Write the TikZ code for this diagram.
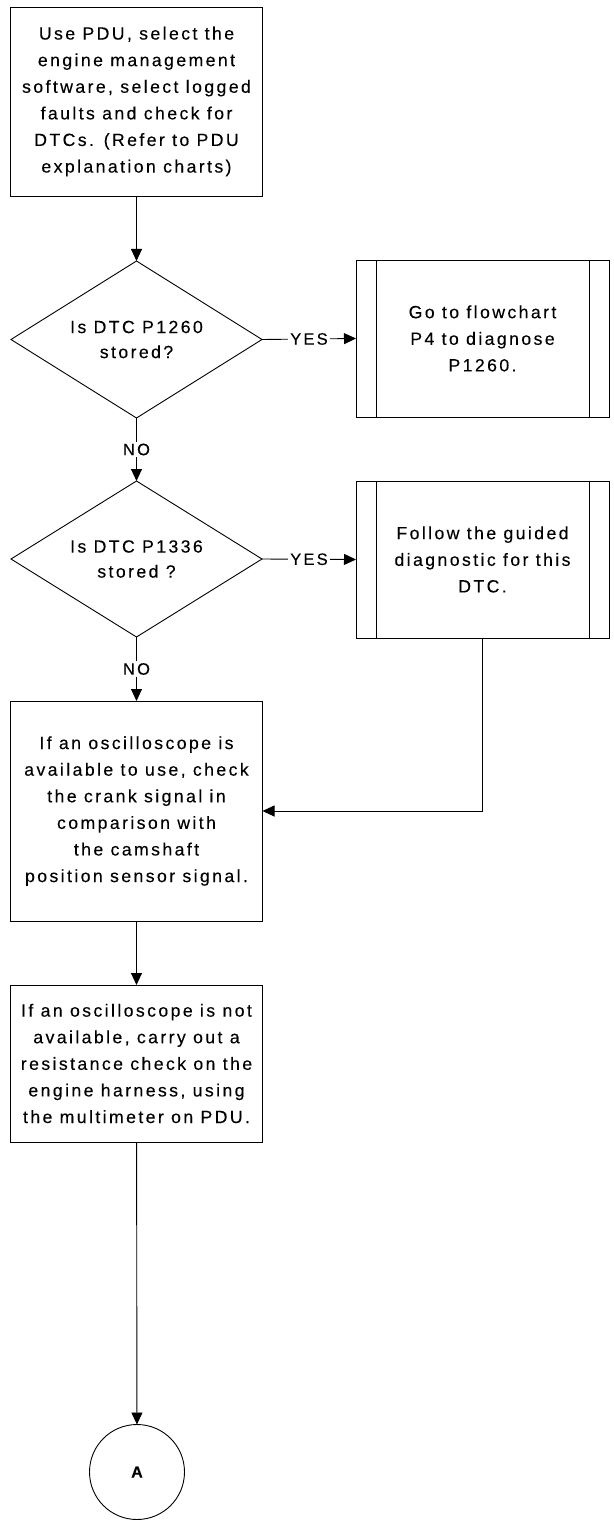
\documentclass[tikz,border=0pt]{standalone}
\usepackage{fontspec}
\setmainfont[LetterSpace=13.5,FakeBold=0.15]{Liberation Sans}
\usetikzlibrary{shapes.geometric,arrows.meta}

\tikzset{
  procbox/.style={draw, rectangle, line width=0.9pt, outer sep=0pt, align=center,
    font=\fontsize{17.7pt}{26.6pt}\selectfont},
  decision/.style={draw, diamond, aspect=1.6, inner sep=0pt, line width=0.9pt,
    outer sep=0pt, align=center, font=\fontsize{17.7pt}{25pt}\selectfont},
  flowarrow/.style={line width=0.9pt, -{Triangle[length=12pt,width=11pt]}},
  answer/.style={fill=white, inner sep=2pt, font=\fontsize{16.5pt}{18pt}\selectfont}
}

\begin{document}
\begin{tikzpicture}[x=1pt, y=-1pt]
\useasboundingbox (0,0) rectangle (613,1522);

% Start
\node[procbox, minimum width=252pt, minimum height=189pt] (usepdu) at (136.5,101.5)
  {Use PDU, select the\\engine management\\software, select logged\\faults and check for\\DTCs. (Refer to PDU\\explanation charts)};

% First question
\node[decision, minimum width=251pt, minimum height=157pt] (q1260) at (136.5,339.5)
  {Is DTC P1260\\stored?};
\node[procbox, minimum width=253pt, minimum height=157pt] (go4) at (482.5,338.5)
  {Go to flowchart\\P4 to diagnose\\P1260.};
\draw[line width=0.9pt] ([xshift=20pt]go4.north west) -- ([xshift=20pt]go4.south west);
\draw[line width=0.9pt] ([xshift=-20pt]go4.north east) -- ([xshift=-20pt]go4.south east);

% Second question
\node[decision, minimum width=251pt, minimum height=156pt] (q1336) at (136.5,559)
  {Is DTC P1336\\stored ?};
\node[procbox, minimum width=253pt, minimum height=157pt] (guided) at (482.5,559.5)
  {Follow the guided\\diagnostic for this\\DTC.};
\draw[line width=0.9pt] ([xshift=20pt]guided.north west) -- ([xshift=20pt]guided.south west);
\draw[line width=0.9pt] ([xshift=-20pt]guided.north east) -- ([xshift=-20pt]guided.south east);

% Checks
\node[procbox, minimum width=252pt, minimum height=220pt] (scope) at (136.5,811)
  {If an oscilloscope is\\available to use, check\\the crank signal in\\comparison with\\the camshaft\\position sensor signal.};
\node[procbox, minimum width=252pt, minimum height=157pt] (noscope) at (136.5,1063.5)
  {If an oscilloscope is not\\available, carry out a\\resistance check on the\\engine harness, using\\the multimeter on PDU.};

% Off-page connector
\node[draw, circle, line width=0.9pt, outer sep=0pt, minimum size=95pt,
  font=\fontsize{16pt}{18pt}\selectfont\bfseries] (conA) at (137,1472) {A};

% Connectors
\draw[flowarrow] (usepdu) -- (q1260);
\draw[flowarrow] (q1260.east) -- node[answer] {YES} (go4.west);
\draw[flowarrow] (q1260.south) -- node[answer] {NO} (q1336.north);
\draw[flowarrow] (q1336.east) -- node[answer] {YES} (guided.west);
\draw[flowarrow] (q1336.south) -- node[answer] {NO} (scope.north);
\draw[flowarrow] (guided.south) |- (scope.east);
\draw[flowarrow] (scope) -- (noscope);
\draw[flowarrow] (noscope) -- (conA);
\end{tikzpicture}
\end{document}
